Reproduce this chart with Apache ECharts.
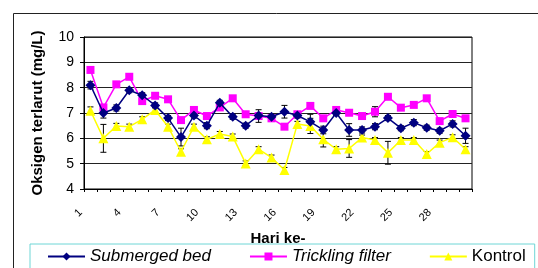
<!DOCTYPE html>
<html>
<head>
<meta charset="utf-8">
<title>Oksigen terlarut</title>
<script src="https://cdn.jsdelivr.net/npm/echarts@6/dist/echarts.min.js"></script>
<style>
  html, body { margin: 0; padding: 0; background: #fff; }
</style>
</head>
<body>
<div id="main" style="width:538px;height:268px;"></div>
<script type="text/javascript">
// hari ke-1 .. 30
var days = [];
for (var d = 1; d <= 30; d++) days.push(String(d));

var submerged = [8.1, 7.0, 7.2, 7.9, 7.7, 7.3, 6.8, 6.05, 6.9, 6.5, 7.4, 6.85, 6.5, 6.9, 6.85,
                 7.05, 6.9, 6.65, 6.33, 7.0, 6.33, 6.33, 6.46, 6.8, 6.4, 6.62, 6.42, 6.3, 6.57, 6.1];
var submergedErr = [0.15, 0.2, 0.12, 0.1, 0.1, 0.1, 0.1, 0.35, 0.1, 0.12, 0.1, 0.1, 0.1, 0.1, 0.1,
                    0.25, 0.1, 0.3, 0.15, 0.1, 0.25, 0.12, 0.12, 0.1, 0.1, 0.12, 0.1, 0.1, 0.12, 0.3];

var trickling = [8.7, 7.22, 8.13, 8.43, 7.47, 7.68, 7.54, 6.72, 7.12, 6.88, 7.22, 7.58, 6.95, 6.88, 6.79,
                 6.46, 6.95, 7.28, 6.79, 7.12, 7.01, 6.88, 7.05, 7.64, 7.21, 7.32, 7.58, 6.68, 6.96, 6.79];
var tricklingErr = [0.1, 0.1, 0.1, 0.1, 0.1, 0.1, 0.1, 0.1, 0.1, 0.1, 0.1, 0.1, 0.1, 0.25, 0.1,
                    0.1, 0.1, 0.1, 0.1, 0.1, 0.1, 0.1, 0.2, 0.1, 0.1, 0.1, 0.1, 0.1, 0.1, 0.1];

var kontrol = [7.09, 6.0, 6.49, 6.46, 6.75, 7.12, 6.46, 5.47, 6.46, 5.96, 6.17, 6.07, 5.01, 5.57, 5.24,
               4.75, 6.57, 6.49, 5.96, 5.57, 5.6, 6.03, 5.93, 5.43, 5.93, 5.93, 5.38, 5.83, 6.04, 5.57];
var kontrolErr = [0.15, 0.55, 0.1, 0.1, 0.1, 0.1, 0.1, 0.12, 0.1, 0.1, 0.1, 0.1, 0.1, 0.1, 0.1,
                  0.1, 0.1, 0.3, 0.3, 0.1, 0.35, 0.1, 0.1, 0.45, 0.1, 0.1, 0.1, 0.1, 0.1, 0.1];

var font = 'Liberation Sans, Arial, sans-serif';

function errData(vals, errs) {
  return vals.map(function (v, i) { return [i, v - errs[i], v + errs[i]]; });
}

// error bar with short caps
function renderErr(params, api) {
  var x = api.value(0);
  var lo = api.coord([x, api.value(1)]);
  var hi = api.coord([x, api.value(2)]);
  var w = 3;
  var st = { stroke: '#000', lineWidth: 1 };
  return {
    type: 'group',
    children: [
      { type: 'line', shape: { x1: lo[0], y1: lo[1], x2: hi[0], y2: hi[1] }, style: st },
      { type: 'line', shape: { x1: lo[0] - w, y1: lo[1], x2: lo[0] + w, y2: lo[1] }, style: st },
      { type: 'line', shape: { x1: hi[0] - w, y1: hi[1], x2: hi[0] + w, y2: hi[1] }, style: st }
    ]
  };
}

var myChart = echarts.init(document.getElementById('main'));

var option = {
  animation: false,
  textStyle: { fontFamily: font, color: '#000' },
  graphic: [{
    type: 'rect', left: 11, top: 11, z: -10,
    shape: { width: 600, height: 400 },
    style: { fill: 'none', stroke: '#222', lineWidth: 1 }
  }],
  grid: { left: 84, right: 66, top: 37, bottom: 79, show: true, borderColor: '#000', borderWidth: 1 },
  legend: {
    left: 30, top: 244, width: 500,
    padding: [4, 9, 20, 17],
    borderColor: '#6fd6d6', borderWidth: 1,
    itemWidth: 37, itemHeight: 10, itemGap: 38,
    textStyle: { fontFamily: font, fontSize: 17, color: '#000' },
    data: [
      { name: 'Submerged bed', textStyle: { fontStyle: 'italic' } },
      { name: 'Trickling filter', textStyle: { fontStyle: 'italic' } },
      { name: 'Kontrol' }
    ]
  },
  xAxis: {
    type: 'category',
    data: days,
    boundaryGap: true,
    name: 'Hari ke-',
    nameLocation: 'middle',
    nameGap: 42,
    nameTextStyle: { fontFamily: font, fontSize: 15, fontWeight: 'bold', color: '#000' },
    axisLine: { lineStyle: { color: '#000', width: 1 } },
    axisTick: { show: true, interval: 0, length: 3, lineStyle: { color: '#000' } },
    axisLabel: {
      interval: 2, rotate: 45, margin: 12, fontSize: 11, color: '#000',
      fontFamily: font, padding: [0, 14, 0, 0]
    },
    splitLine: { show: false }
  },
  yAxis: {
    type: 'value',
    min: 4, max: 10, interval: 1,
    name: 'Oksigen terlarut (mg/L)',
    nameLocation: 'middle',
    nameGap: 39,
    nameTextStyle: { fontFamily: font, fontSize: 15, fontWeight: 'bold', color: '#000' },
    axisLine: { show: true, lineStyle: { color: '#000', width: 1 } },
    axisTick: { show: true, length: 4, lineStyle: { color: '#000' } },
    axisLabel: { margin: 10, fontSize: 14, color: '#000', fontFamily: font },
    splitLine: { show: true, lineStyle: { color: '#222', width: 1 } }
  },
  series: [
    { type: 'custom', renderItem: renderErr, data: errData(submerged, submergedErr), z: 1, silent: true },
    { type: 'custom', renderItem: renderErr, data: errData(trickling, tricklingErr), z: 1, silent: true },
    { type: 'custom', renderItem: renderErr, data: errData(kontrol, kontrolErr), z: 1, silent: true },
    {
      name: 'Submerged bed', type: 'line', data: submerged, z: 4,
      symbol: 'diamond', symbolSize: 10, showAllSymbol: true,
      itemStyle: { color: '#000080' },
      lineStyle: { color: '#000080', width: 1.5 }
    },
    {
      name: 'Trickling filter', type: 'line', data: trickling, z: 3,
      symbol: 'rect', symbolSize: 8, showAllSymbol: true,
      itemStyle: { color: '#ff00ff' },
      lineStyle: { color: '#ff00ff', width: 1.5 }
    },
    {
      name: 'Kontrol', type: 'line', data: kontrol, z: 2,
      symbol: 'triangle', symbolSize: 10, showAllSymbol: true,
      itemStyle: { color: '#ffff00' },
      lineStyle: { color: '#ffff00', width: 1.5 }
    }
  ]
};

myChart.setOption(option);
</script>
</body>
</html>
